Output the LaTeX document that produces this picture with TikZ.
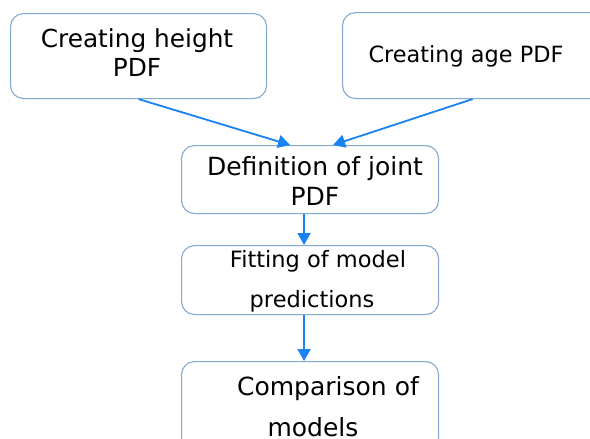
\documentclass[tikz,border=0pt]{standalone}
\usepackage{fontspec}
\setmainfont{DejaVu Sans}
\usetikzlibrary{arrows.meta,calc}
\definecolor{boxline}{RGB}{130,168,212}
\definecolor{arrowblue}{RGB}{25,130,245}
\tikzset{
  box/.style={draw=boxline, line width=1.1pt, rounded corners=13pt, fill=white},
  flow/.style={draw=arrowblue, line width=1.8pt, -{Triangle[length=12pt,width=13pt]}},
  txt/.style={anchor=base, inner sep=0pt, text=black},
}
\begin{document}
\begin{tikzpicture}[x=1pt,y=-1pt]
\useasboundingbox (0,0) rectangle (590,439);
\fill[white] (0,0) rectangle (590,439);
% boxes
\node[box, minimum width=256pt, minimum height=85pt, anchor=north west] (b1) at (10,13) {};
\node[box, minimum width=260pt, minimum height=86pt, anchor=north west] (b2) at (342,12) {};
\node[box, minimum width=257pt, minimum height=68pt, anchor=north west] (b3) at (181,145) {};
\node[box, minimum width=257pt, minimum height=69pt, anchor=north west] (b4) at (181,245) {};
\node[box, minimum width=257pt, minimum height=90pt, anchor=north west] (b5) at (181,361) {};
% texts
\node[txt, font=\fontsize{24.8}{28}\selectfont] (t1a) at (137,47) {Creating height};
\node[txt, font=\fontsize{24.8}{28}\selectfont] (t1b) at (137,76) {PDF};
\node[txt, font=\fontsize{22.4}{26}\selectfont] (t2) at (466,62) {Creating age PDF};
\node[txt, font=\fontsize{25}{28}\selectfont] (t3a) at (315,175) {Definition of joint};
\node[txt, font=\fontsize{25}{28}\selectfont] (t3b) at (315,205) {PDF};
\node[txt, font=\fontsize{22.5}{26}\selectfont] (t4a) at (318,267) {Fitting of model};
\node[txt, font=\fontsize{22.5}{26}\selectfont] (t4b) at (312,307) {predictions};
\node[txt, font=\fontsize{25}{28}\selectfont] (t5a) at (328,395) {Comparison of};
\node[txt, font=\fontsize{25}{28}\selectfont] (t5b) at (313,436) {models};
% connectors
\draw[flow] (b1.south) -- ($(b3.north)+(-20,0)$);
\draw[flow] (b2.south) -- ($(b3.north)+(23,0)$);
\draw[flow] ($(b3.south)+(-6,0)$) -- ($(b4.north)+(-6,0)$);
\draw[flow] ($(b4.south)+(-6,0)$) -- ($(b5.north)+(-6,0)$);
\end{tikzpicture}
\end{document}
